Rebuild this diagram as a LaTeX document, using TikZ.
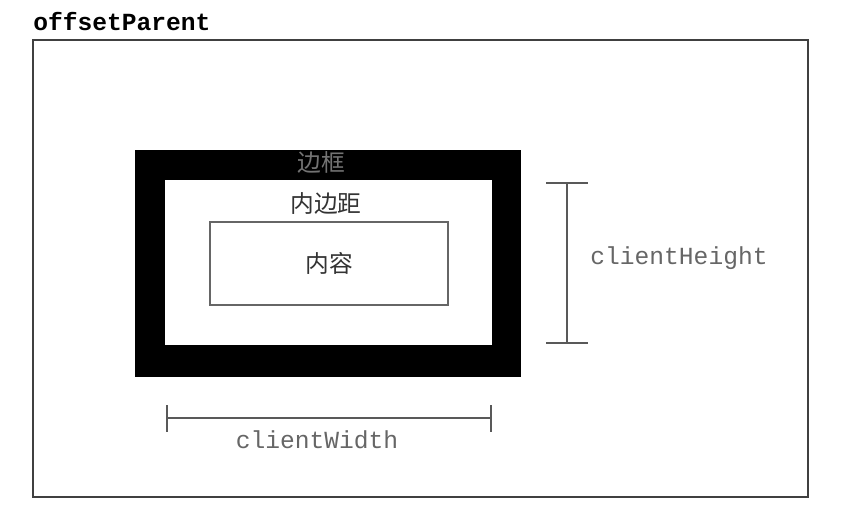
\documentclass[tikz,border=0pt]{standalone}
\usepackage{fontspec}
\setmonofont{Liberation Mono}
\newfontfamily\cjk{Noto Sans CJK SC}
\usetikzlibrary{positioning}

\begin{document}
\begin{tikzpicture}[x=0.02cm,y=-0.02cm]

\def\tickhalf{21}
\tikzset{
    boxline/.style={draw=black!75,line width=0.8pt},
    measure/.style={draw=black!65,line width=0.9pt},
    codelabel/.style={font=\ttfamily\fontsize{14}{16}\selectfont,text=black!60},
    cjklabel/.style={font=\cjk\fontsize{13.5}{16}\selectfont,text=black!80}
}

\useasboundingbox (0,0) rectangle (866,521);

\node (title) [anchor=west,inner sep=0pt,font=\ttfamily\bfseries\fontsize{14}{16}\selectfont] at (33,22) {offsetParent};

\node (parent) [boxline,minimum width=15.5cm,minimum height=9.14cm] at (420.5,268.5) {};
\node (border) [fill=black,draw=black,minimum width=7.7cm,minimum height=4.52cm] at (327.5,263) {};
\node (padding) [fill=white,minimum width=6.54cm,minimum height=3.3cm,inner sep=0pt] at (328.5,262.5) {};
\node (content) [boxline,draw=black!60,minimum width=4.76cm,minimum height=1.66cm] at (329,263.5) {};

\node (bordertxt) [cjklabel,text=black!55] at (321,162) {边框};
\node (paddingtxt) [cjklabel] at (326,204) {内边距};
\node (contenttxt) [cjklabel] at (content) {内容};

% clientHeight
\coordinate (htop) at (567,183);
\coordinate (hbot) at (567,343);
\draw [measure] (htop) -- (hbot);
\draw [measure] (htop) ++(-\tickhalf,0) -- ++(2*\tickhalf,0);
\draw [measure] (hbot) ++(-\tickhalf,0) -- ++(2*\tickhalf,0);
\node (hlabel) [codelabel] at (679,258) {clientHeight};

% clientWidth
\coordinate (wleft) at (167,418);
\coordinate (wright) at (491,418);
\draw [measure] (wleft) -- (wright);
\draw [measure] (wleft) ++(0,-13) -- ++(0,27);
\draw [measure] (wright) ++(0,-13) -- ++(0,27);
\node (wlabel) [codelabel] at (317,440) {clientWidth};

\end{tikzpicture}
\end{document}
